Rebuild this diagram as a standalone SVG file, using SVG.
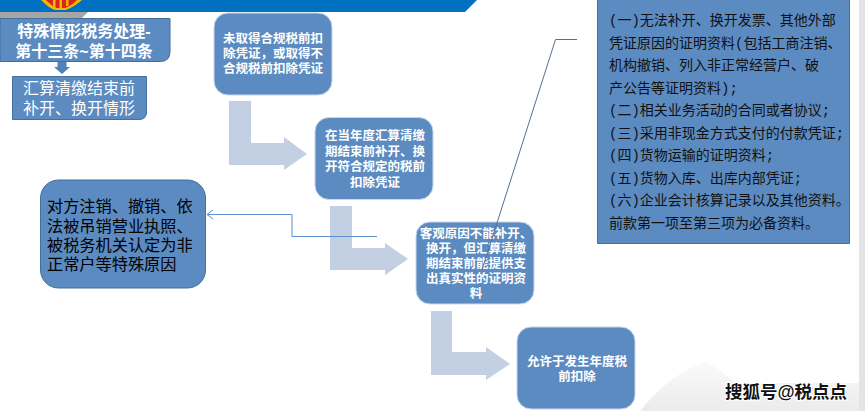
<svg xmlns="http://www.w3.org/2000/svg" width="865" height="411" viewBox="0 0 865 411">
<defs>
<style>
.node{fill:#5b8bc1;stroke:#c9d7ea;stroke-width:1}
.dark{fill:#5b8bc1;stroke:#41719c;stroke-width:1}
.elbow{fill:#c3d0e4}
.line{fill:none;stroke:#5b8fd0;stroke-width:1}
text{font-family:"Liberation Sans","Noto Sans CJK SC",sans-serif}
.w{fill:#fff;font-weight:700;font-size:12.500px;text-anchor:middle}
.h{fill:#fff;font-weight:700;font-size:16px;text-anchor:middle}
.s{fill:#fff;font-size:16px;text-anchor:middle}
.b{fill:#000;font-size:16.200px}
.r{fill:#111;font-size:14px;font-family:"Liberation Mono","Noto Sans CJK SC",monospace}
</style>
<linearGradient id="fade" x1="0" y1="0" x2="0" y2="1"><stop offset="0" stop-color="#fafafa"/><stop offset="1" stop-color="#ebebeb"/></linearGradient>
</defs>
<rect width="865" height="411" fill="#fff"/>
<rect x="859" y="0" width="6" height="411" fill="#e3e4e8"/>
<path d="M640 411Q672 372 706 362Q724 372 736 383H859V411Z" fill="url(#fade)"/>
<path d="M0 12H88L82 18H0Z" fill="#a6a6a6"/>
<path d="M0 0H477L465 12H0Z" fill="#0070c0"/>
<path d="M41 0Q50 9 55 10H66Q74 7 82 0Z" fill="#f2b705"/>
<path d="M46 0Q52 6 56 8H65Q71 6 77 0Z" fill="#d8261c"/>
<path d="M53 0H55.500V8H53ZM59.500 0H62V10H59.500ZM66 0H68.500V6H66Z" fill="#f2b705"/>
<g id="n-title">
<path class="dark" d="M0 18.500H170V52Q170 61.500 160 61.500H0Z"/>
<text class="h" x="84" y="37">特殊情形税务处理-</text>
<text class="h" x="84" y="57">第十三条~第十四条</text>
</g>
<g id="n-sub">
<path class="dark" d="M12.500 76.500H146.500V112Q146.500 119.500 139 119.500H12.500Z"/>
<text class="s" x="79" y="94">汇算清缴结束前</text>
<text class="s" x="79" y="114">补开、换开情形</text>
</g>
<g id="n-a">
<rect class="node" x="214" y="13" width="118" height="82" rx="14"/>
<text class="w" x="273" y="43">未取得合规税前扣</text>
<text class="w" x="273" y="58">除凭证，或取得不</text>
<text class="w" x="273" y="73">合规税前扣除凭证</text>
</g>
<g id="n-b">
<rect class="node" x="315" y="117.500" width="118" height="82" rx="14"/>
<text class="w" x="375" y="140">在当年度汇算清缴</text>
<text class="w" x="375" y="155.500">期结束前补开、换</text>
<text class="w" x="375" y="171">开符合规定的税前</text>
<text class="w" x="375" y="186.500">扣除凭证</text>
</g>
<g id="n-c">
<rect class="node" x="416" y="222" width="118" height="82" rx="14"/>
<text class="w" x="476" y="238">客观原因不能补开、</text>
<text class="w" x="476" y="253">换开，但汇算清缴</text>
<text class="w" x="476" y="268">期结束前能提供支</text>
<text class="w" x="476" y="283">出真实性的证明资</text>
<text class="w" x="476" y="298">料</text>
</g>
<g id="n-d">
<rect class="node" x="517" y="327" width="118" height="82" rx="14"/>
<text class="w" x="577" y="366">允许于发生年度税</text>
<text class="w" x="577" y="381">前扣除</text>
</g>
<g id="n-e">
<rect class="dark" x="40.500" y="180" width="165" height="108" rx="18"/>
<text class="b" x="47" y="212">对方注销、撤销、依</text>
<text class="b" x="47" y="232">法被吊销营业执照、</text>
<text class="b" x="47" y="251">被税务机关认定为非</text>
<text class="b" x="47" y="270">正常户等特殊原因</text>
</g>
<g id="n-f">
<path class="dark" d="M597.500 0V243.500H849.500V0"/>
<text class="r" x="609" y="25">(一)无法补开、换开发票、其他外部</text>
<text class="r" x="609" y="48">凭证原因的证明资料(包括工商注销、</text>
<text class="r" x="609" y="70">机构撤销、列入非正常经营户、破</text>
<text class="r" x="609" y="93">产公告等证明资料);</text>
<text class="r" x="609" y="115">(二)相关业务活动的合同或者协议;</text>
<text class="r" x="609" y="138">(三)采用非现金方式支付的付款凭证;</text>
<text class="r" x="609" y="160">(四)货物运输的证明资料;</text>
<text class="r" x="609" y="183">(五)货物入库、出库内部凭证;</text>
<text class="r" x="609" y="205">(六)企业会计核算记录以及其他资料。</text>
<text class="r" x="609" y="228">前款第一项至第三项为必备资料。</text>
</g>
<g id="connectors">
<path class="elbow" d="M229 101H251V143H284V137L307 154L284 170V165H229Z"/>
<path class="elbow" d="M330 206H352V248H385V243L408 259L385 275V270H330Z"/>
<path class="elbow" d="M431 311H452V352H486V347L510 364L486 380V375H431Z"/>
<path class="line" d="M377 236.500H292V214.500H207"/>
<path class="line" d="M213 210L207 214.500L213 219"/>
<path d="M577 39.500H555.500L482 270" fill="none" stroke="#56708f" stroke-width="1"/>
<path fill="#4f81bd" d="M57.500 62H66.500V67H70L62 74L54 67H57.500Z"/>
</g>
<text x="725" y="398" font-size="17.500" fill="#111" stroke="#fff" stroke-width="2" paint-order="stroke" font-weight="700">搜狐号@税点点</text>
</svg>
